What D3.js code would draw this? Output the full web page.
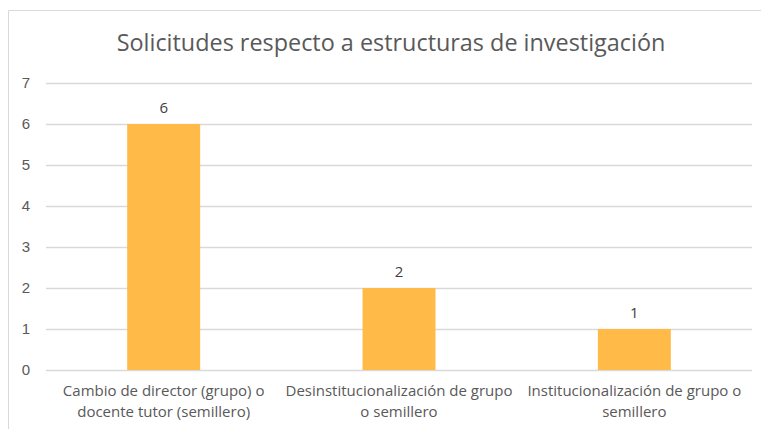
<!DOCTYPE html>
<html>
<head>
<meta charset="utf-8">
<script src="https://cdn.jsdelivr.net/npm/d3@7"></script>
<style>
	body { margin: 0; background: #fff; }
	svg { display: block; font-family: 'Open Sans', sans-serif; }
</style>
</head>
<body>
<div id="chart"></div>
<script>
const title = 'Solicitudes respecto a estructuras de investigación';
const categories = [
	['Cambio de director (grupo) o', 'docente tutor (semillero)'],
	['Desinstitucionalización de grupo', 'o semillero'],
	['Institucionalización de grupo o', 'semillero']
];
const values = [6, 2, 1];
const yTicks = [0, 1, 2, 3, 4, 5, 6, 7];

const width = 761, height = 429;
const margin = { top: 83, left: 46, bottom: 59, right: 9 };
const innerW = width - margin.left - margin.right;
const innerH = height - margin.top - margin.bottom;

const svg = d3.select('#chart').append('svg')
	.attr('width', width)
	.attr('height', height);

// chart frame
svg.append('path')
	.attr('d', `M8.5,${height} V10.5 H${width}`)
	.attr('fill', 'none')
	.attr('stroke', '#d9d9d9')
	.attr('stroke-width', 1);

svg.append('text')
	.attr('x', 391)
	.attr('y', 51)
	.attr('text-anchor', 'middle')
	.attr('fill', '#595959')
	.style('font-size', '23.4px')
	.text(title);

const g = svg.append('g')
	.attr('transform', `translate(${margin.left},${margin.top})`);

const x = d3.scaleBand()
	.domain(d3.range(categories.length))
	.range([0, innerW])
	.paddingInner(0.69)
	.paddingOuter(0.345);

const y = d3.scaleLinear().domain([0, 7]).range([innerH, 0]);

// gridlines
g.append('g')
	.call(d3.axisLeft(y).tickValues(yTicks).tickSize(-innerW).tickFormat(''))
	.call(s => s.select('.domain').remove())
	.call(s => s.selectAll('line').attr('stroke', '#d9d9d9').attr('stroke-width', 1.3));

// y labels
g.append('g')
	.call(d3.axisLeft(y).tickValues(yTicks).tickSize(0).tickPadding(16).tickFormat(d3.format('d')))
	.call(s => s.select('.domain').remove())
	.call(s => s.selectAll('text')
		.attr('fill', '#595959')
		.style('font-size', '15px'));

g.selectAll('.bar')
	.data(values)
	.enter().append('rect')
	.attr('class', 'bar')
	.attr('x', (d, i) => x(i))
	.attr('y', d => y(d))
	.attr('width', x.bandwidth())
	.attr('height', d => innerH - y(d))
	.attr('fill', '#ffba47');

g.selectAll('.val')
	.data(values)
	.enter().append('text')
	.attr('class', 'val')
	.attr('x', (d, i) => x(i) + x.bandwidth() / 2)
	.attr('y', d => y(d) - 11)
	.attr('text-anchor', 'middle')
	.attr('fill', '#404040')
	.style('font-size', '15px')
	.text(d => d);

// category labels
const labels = g.selectAll('.cat')
	.data(categories)
	.enter().append('text')
	.attr('class', 'cat')
	.attr('text-anchor', 'middle')
	.attr('fill', '#595959')
	.style('font-size', '15px');

labels.selectAll('tspan')
	.data((d, i) => d.map(t => ({ t, i })))
	.enter().append('tspan')
	.attr('x', d => x(d.i) + x.bandwidth() / 2)
	.attr('y', (d, j) => innerH + 26 + j * 21)
	.text(d => d.t);
</script>
</body>
</html>
